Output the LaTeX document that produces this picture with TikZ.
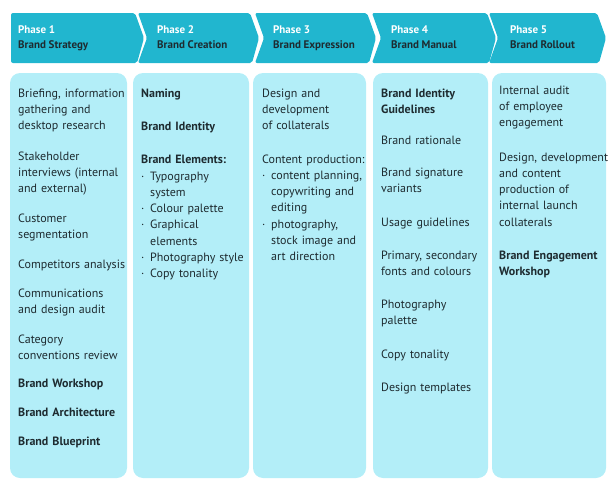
\documentclass[tikz,border=0pt]{standalone}
\usepackage{fontspec}
\setmainfont{PT Sans}
\definecolor{phasecyan}{HTML}{21B6CF}
\definecolor{bodycyan}{HTML}{B3EEF8}
\definecolor{textdark}{HTML}{1E2B30}
% chevron of one phase, from x=#1 to the start of its tip at x=#2
\newcommand{\phasechevron}[2]
{\fill[phasecyan,rounded corners=2pt] (#1,13) -- (#2,13) -- ++(9,25) -- ++(-7,25) -- (#1,63) -- ++(9,-25) -- cycle;
}
\newcommand{\phasebody}[2]
{\fill[bodycyan,rounded corners=10pt] (#1,73) rectangle (#2,478);
}
\newcommand{\bul}{\makebox[9pt][l]{\textperiodcentered}}
\newcommand{\hang}{\hspace*{9pt}}

\begin{document}
\begin{tikzpicture}[x={(1pt,0)},y={(0,-1pt)},
	phasenum/.style={anchor=base west,inner sep=0pt,text=white,font=\fontsize{11}{14}\selectfont\bfseries},
	phasename/.style={anchor=base west,inner sep=0pt,text=textdark,font=\fontsize{11}{14}\selectfont\bfseries},
	bodytext/.style={anchor=base west,inner sep=0pt,text width=112pt,align=left,text=textdark,font=\fontsize{12}{16.3}\selectfont},
	boldtext/.style={bodytext,font=\fontsize{12}{16.3}\selectfont\bfseries}]
\useasboundingbox (0,0) rectangle (608,479);
% headers
\fill[phasecyan,rounded corners=2pt] (11,13) -- (135,13) -- ++(9,25) -- ++(-7,25) -- (11,63) -- cycle;
\phasechevron{138}{250}
\phasechevron{255}{367}
\phasechevron{372}{487}
\phasechevron{489}{597}
\node[phasenum] (p1) at (18,34) {Phase 1};
\node[phasename] (n1) at (18,48) {Brand Strategy};
\node[phasenum] (p2) at (157,34) {Phase 2};
\node[phasename] (n2) at (157,48) {Brand Creation};
\node[phasenum] (p3) at (273,34) {Phase 3};
\node[phasename] (n3) at (273,48) {Brand Expression};
\node[phasenum] (p4) at (391,34) {Phase 4};
\node[phasename] (n4) at (391,48) {Brand Manual};
\node[phasenum] (p5) at (510,34) {Phase 5};
\node[phasename] (n5) at (510,48) {Brand Rollout};
% columns
\phasebody{10}{127}
\phasebody{133}{249}
\phasebody{253}{366}
\phasebody{373}{488}
\phasebody{492}{606}
\begin{scope}[shift={(0,4)}]
% phase 1
\node[bodytext] (s1) at (18,93) {Briefing, information\\gathering and\\desktop research};
\node[bodytext] (s2) at (18,156) {Stakeholder\\interviews (internal\\and external)};
\node[bodytext] (s3) at (18,218) {Customer\\segmentation};
\node[bodytext] (s4) at (18,264) {Competitors analysis};
\node[bodytext] (s5) at (18,293) {Communications\\and design audit};
\node[bodytext] (s6) at (18,339) {Category\\conventions review};
\node[boldtext] (s7) at (18,383) {Brand Workshop};
\node[boldtext] (s8) at (18,412) {Brand Architecture};
\node[boldtext] (s9) at (18,441) {Brand Blueprint};
% phase 2
\node[boldtext] (c1) at (141,93) {Naming};
\node[boldtext] (c2) at (141,126) {Brand Identity};
\node[boldtext] (c3) at (141,159) {Brand Elements:};
\node[bodytext] (c4) at (141,176) {\bul Typography\\\hang system\\\bul Colour palette\\\bul Graphical\\\hang elements\\\bul Photography style\\\bul Copy tonality};
% phase 3
\node[bodytext] (e1) at (262,93) {Design and\\development\\of collaterals};
\node[bodytext] (e2) at (262,159) {Content production:\\\bul content planning,\\\hang copywriting and\\\hang editing\\\bul photography,\\\hang stock image and\\\hang art direction};
% phase 4
\node[boldtext] (m1) at (381,93) {Brand Identity\\Guidelines};
\node[bodytext] (m2) at (381,140) {Brand rationale};
\node[bodytext] (m3) at (381,172) {Brand signature\\variants};
\node[bodytext] (m4) at (381,222) {Usage guidelines};
\node[bodytext] (m5) at (381,255) {Primary, secondary\\fonts and colours};
\node[bodytext] (m6) at (381,304) {Photography\\palette};
\node[bodytext] (m7) at (381,354) {Copy tonality};
\node[bodytext] (m8) at (381,387) {Design templates};
% phase 5
\node[bodytext] (r1) at (499,90) {Internal audit\\of employee\\engagement};
\node[bodytext] (r2) at (499,157) {Design, development\\and content\\production of\\internal launch\\collaterals};
\node[boldtext] (r3) at (499,255) {Brand Engagement\\Workshop};
\end{scope}
\end{tikzpicture}
\end{document}
